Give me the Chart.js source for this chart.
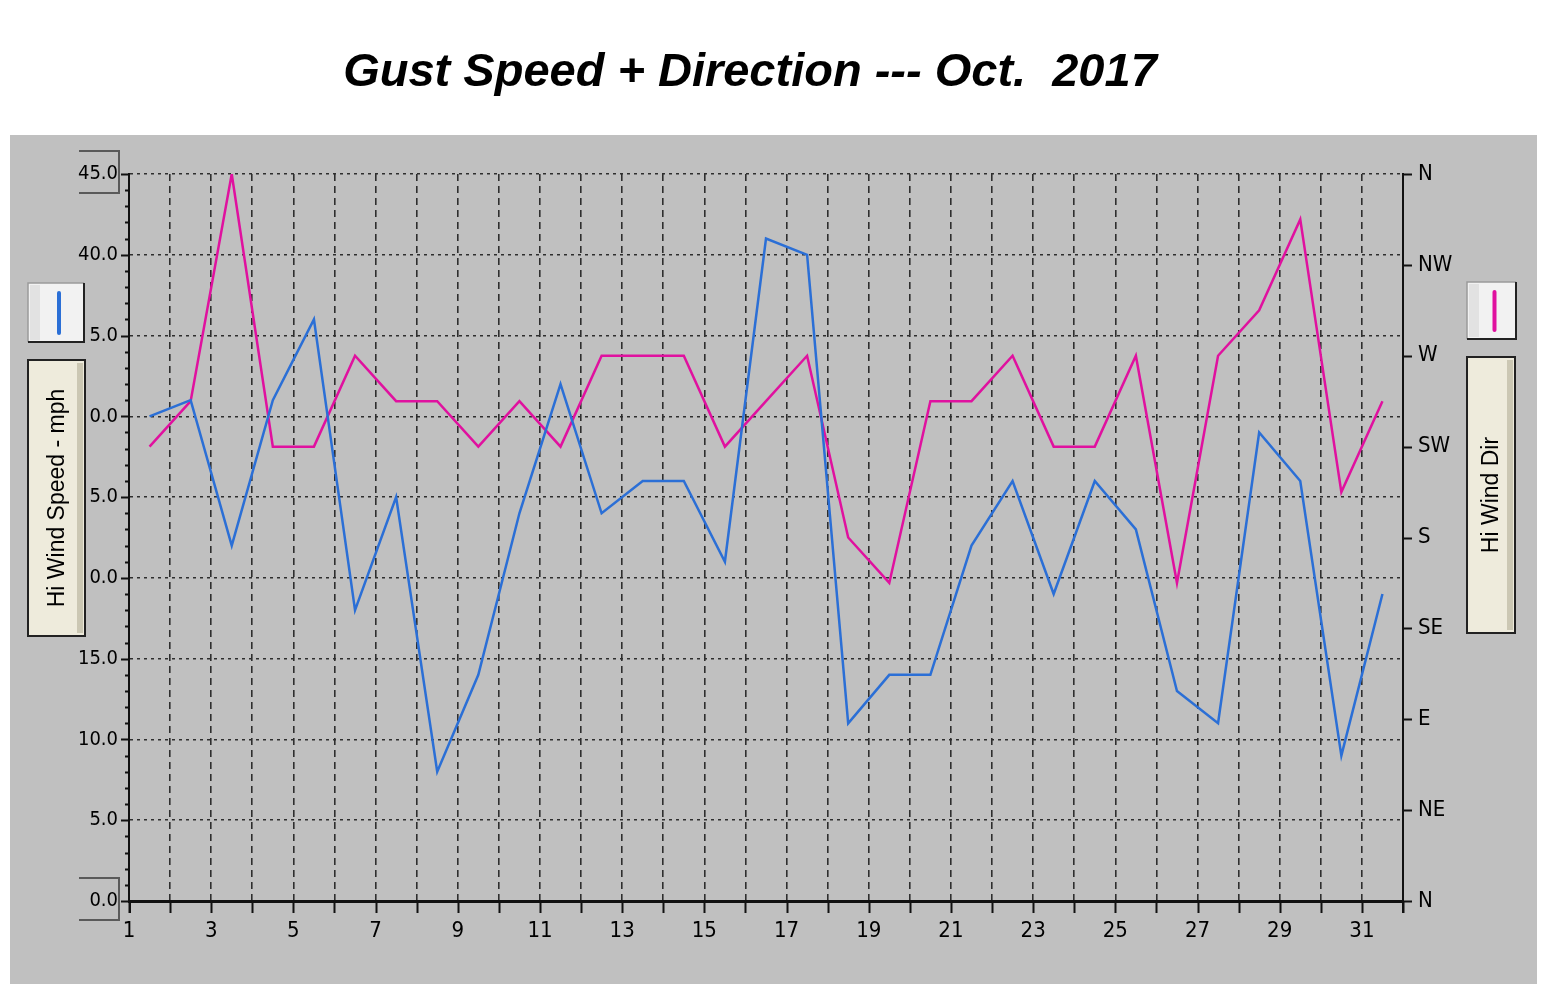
<!DOCTYPE html>
<html>
<head>
<meta charset="utf-8">
<title>Gust Speed + Direction</title>
<script src="https://cdn.jsdelivr.net/npm/chart.js@4.4.0/dist/chart.umd.min.js"></script>
<style>
  body { margin: 0; background: #fff; }
  canvas { display: block; }
</style>
</head>
<body>
<canvas id="grafico" width="1545" height="984"></canvas>
<script>
var titulo = 'Gust Speed + Direction --- Oct.  2017'
var dias = [1,2,3,4,5,6,7,8,9,10,11,12,13,14,15,16,17,18,19,20,21,22,23,24,25,26,27,28,29,30,31]
// rajada em mph
var rajada = [30,31,22,31,36,18,25,8,14,24,32,24,26,26,21,41,40,11,14,14,22,26,19,26,23,13,11,29,26,9,19]
// direcao em graus (0 = N)
var direcao = [225,247.5,360,225,225,270,247.5,247.5,225,247.5,225,270,270,270,225,247.5,270,180,157.5,247.5,247.5,270,225,225,270,157.5,270,292.5,337.5,202.5,247.5]
var rotulosvelocidade = ['0.0','5.0','10.0','15.0','0.0','5.0','0.0','5.0','40.0','45.0']
var rotulosdirecao = ['N','NE','E','SE','S','SW','W','NW','N']
var rotulosdias = [1,3,5,7,9,11,13,15,17,19,21,23,25,27,29,31]
var legendavelocidade = 'Hi Wind Speed - mph'
var legendadirecao = 'Hi Wind Dir'

var fonteeixo = '"Liberation Sans Narrow", "DejaVu Sans Condensed", "Liberation Sans", Arial, sans-serif'
var fontetexto = '"Liberation Sans", Arial, sans-serif'

function caixalinha(c, x, y, w, h, cor){
    c.fillStyle = '#f2f2f2'
    c.fillRect(x, y, w, h)
    c.fillStyle = '#e2e2e2'
    c.fillRect(x + 2, y + 2, 10, h - 4)
    c.strokeStyle = '#9a9a9a'
    c.lineWidth = 1.5
    c.beginPath(); c.moveTo(x, y + h); c.lineTo(x, y); c.lineTo(x + w, y); c.stroke()
    c.strokeStyle = '#222'
    c.lineWidth = 2
    c.beginPath(); c.moveTo(x + w, y); c.lineTo(x + w, y + h); c.lineTo(x, y + h); c.stroke()
    c.strokeStyle = cor
    c.lineWidth = 4
    c.lineCap = 'round'
    c.beginPath(); c.moveTo(x + w / 2 + 3, y + 10); c.lineTo(x + w / 2 + 3, y + h - 9); c.stroke()
    c.lineCap = 'butt'
}

function caixatexto(c, x, y, w, h, texto){
    c.fillStyle = '#eeebdc'
    c.fillRect(x, y, w, h)
    c.fillStyle = '#cbc7b3'
    c.fillRect(x + w - 8, y + 3, 6, h - 6)
    c.strokeStyle = '#222'
    c.lineWidth = 2
    c.strokeRect(x, y, w, h)
    c.save()
    c.translate(x + w / 2 + 1, y + h / 2)
    c.rotate(-Math.PI / 2)
    c.fillStyle = '#000'
    c.font = '23px ' + fontetexto
    c.textAlign = 'center'
    c.textBaseline = 'middle'
    c.fillText(texto, 0, 0)
    c.restore()
}

var desenho = {
    id: 'desenho',
    beforeDraw: function(chart){
        var c = chart.ctx
        c.save()
        c.fillStyle = '#fff'
        c.fillRect(0, 0, chart.width, chart.height)
        c.fillStyle = '#c0c0c0'
        c.fillRect(10, 135, 1527, 849)
        c.fillStyle = '#000'
        c.font = 'italic bold 47px ' + fontetexto
        c.textAlign = 'center'
        c.textBaseline = 'alphabetic'
        c.fillText(titulo, 750, 86)
        c.restore()
    },
    afterDraw: function(chart){
        var c = chart.ctx
        var a = chart.chartArea
        var sy = chart.scales.y
        var sy1 = chart.scales.y1
        var sx = chart.scales.x
        c.save()
        c.strokeStyle = '#111'
        c.lineWidth = 2
        // marcas do eixo esquerdo
        for(var v = 0; v <= 45; v++){
            var py = Math.round(sy.getPixelForValue(v)) + 0.5
            var comp = v % 5 == 0 ? 8 : 4
            c.beginPath(); c.moveTo(a.left - comp, py); c.lineTo(a.left, py); c.stroke()
        }
        // marcas do eixo direito
        for(var d = 0; d <= 360; d += 45){
            var pd = Math.round(sy1.getPixelForValue(d)) + 0.5
            c.beginPath(); c.moveTo(a.right, pd); c.lineTo(a.right + 9, pd); c.stroke()
        }
        // marcas do eixo x
        for(var i = 1; i <= 32; i++){
            var px = Math.round(sx.getPixelForValue(i)) + 0.5
            c.beginPath(); c.moveTo(px, a.bottom); c.lineTo(px, a.bottom + 12); c.stroke()
        }
        c.beginPath(); c.moveTo(a.left + 1, a.bottom); c.lineTo(a.left + 1, a.bottom + 12); c.stroke()
        c.beginPath(); c.moveTo(a.right, a.bottom); c.lineTo(a.right, a.bottom + 12); c.stroke()
        // colchetes em 45.0 e 0.0
        c.strokeStyle = '#5a5a5a'
        c.lineWidth = 2
        var lista = [45, 0]
        for(var k = 0; k < lista.length; k++){
            var yy = sy.getPixelForValue(lista[k])
            c.beginPath()
            c.moveTo(a.left - 50, yy - 23)
            c.lineTo(a.left - 10, yy - 23)
            c.lineTo(a.left - 10, yy + 19)
            c.lineTo(a.left - 50, yy + 19)
            c.stroke()
        }
        caixalinha(c, 28, 283, 56, 59, '#2b6fd6')
        caixatexto(c, 28, 360, 57, 276, legendavelocidade)
        caixalinha(c, 1467, 282, 49, 57, '#e0119f')
        caixatexto(c, 1467, 357, 48, 276, legendadirecao)
        c.restore()
    }
}

var pontosrajada = []
var pontosdirecao = []
for(var i = 0; i < dias.length; i++){
    pontosrajada.push({x: dias[i] + 0.5, y: rajada[i]})
    pontosdirecao.push({x: dias[i] + 0.5, y: direcao[i]})
}

const ctx = document.getElementById('grafico');
new Chart(ctx, {
    type: 'line',
    data: {
        datasets: [{
            label: legendavelocidade,
            data: pontosrajada,
            borderColor: '#2b6fd6',
            borderWidth: 2.5,
            pointRadius: 0,
            tension: 0,
            yAxisID: 'y'
        }, {
            label: legendadirecao,
            data: pontosdirecao,
            borderColor: '#e0119f',
            borderWidth: 2.5,
            pointRadius: 0,
            tension: 0,
            yAxisID: 'y1'
        }]
    },
    options: {
        responsive: false,
        animation: false,
        events: [],
        layout: {
            padding: {left: 10, right: 62, top: 174, bottom: 33}
        },
        plugins: {
            legend: {display: false},
            tooltip: {enabled: false}
        },
        scales: {
            x: {
                type: 'linear',
                min: 1,
                max: 32,
                afterFit: function(scale){ scale.height = 50 },
                ticks: {
                    stepSize: 1,
                    autoSkip: false,
                    maxRotation: 0,
                    padding: 17,
                    color: '#000',
                    font: {family: fonteeixo, size: 22},
                    callback: function(valor){
                        return rotulosdias.indexOf(valor) >= 0 ? String(valor) : ''
                    }
                },
                grid: {
                    drawTicks: false,
                    lineWidth: 1.6,
                    color: function(ctx){
                        var v = ctx.tick ? ctx.tick.value : 0
                        return (v == 1 || v == 32) ? 'rgba(0,0,0,0)' : '#2e2e2e'
                    }
                },
                border: {display: true, color: '#111', width: 3, dash: [7, 5]}
            },
            y: {
                type: 'linear',
                position: 'left',
                min: 0,
                max: 45,
                afterFit: function(scale){ scale.width = 119 },
                ticks: {
                    stepSize: 5,
                    padding: 11,
                    color: '#000',
                    font: {family: fonteeixo, size: 20},
                    callback: function(valor){
                        return rotulosvelocidade[Math.round(valor / 5)]
                    }
                },
                grid: {
                    drawTicks: false,
                    lineWidth: 1.6,
                    color: function(ctx){
                        var v = ctx.tick ? ctx.tick.value : 1
                        return v == 0 ? 'rgba(0,0,0,0)' : '#2e2e2e'
                    }
                },
                border: {display: true, color: '#111', width: 2, dash: [3, 4]}
            },
            y1: {
                type: 'linear',
                position: 'right',
                min: 0,
                max: 360,
                afterFit: function(scale){ scale.width = 80 },
                ticks: {
                    stepSize: 45,
                    padding: 15,
                    color: '#000',
                    font: {family: fonteeixo, size: 22},
                    callback: function(valor){
                        return rotulosdirecao[Math.round(valor / 45)]
                    }
                },
                grid: {drawTicks: false, drawOnChartArea: false},
                border: {display: true, color: '#111', width: 2}
            }
        }
    },
    plugins: [desenho]
})
</script>
</body>
</html>
